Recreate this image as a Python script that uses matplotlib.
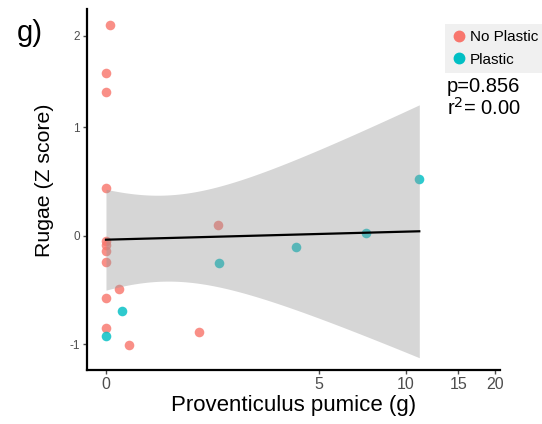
import numpy as np
import matplotlib.pyplot as plt
from matplotlib.lines import Line2D

plt.rcParams['font.family'] = ['Liberation Sans', 'DejaVu Sans']

#data (x in grams, y in Z score)
no_plastic_x = [0.09, 0, 0, 0, 0, 0, 0, 0, 2.63, 0.31, 0, 0, 2.18, 0.54]
no_plastic_y = [2.12, 1.59, 1.38, 0.44, -0.05, -0.08, -0.14, -0.24, 0.10, -0.49, -0.57, -0.85, -0.89, -1.01]
plastic_x = [0.37, 0, 2.64, 4.46, 7.69, 11.27]
plastic_y = [-0.69, -0.93, -0.25, -0.10, 0.03, 0.52]

x_ticks = [0, 5, 10, 15, 20]
y_ticks = [-1, 0, 1, 2]
p_text = "p=0.856"
r2_text = "r$^2$= 0.00"

#the original axes are not linear, so map tick values to their positions
XV = [-5, 0, 5, 10, 15, 20, 30]
XP = [-213.3, 0, 213.3, 300, 352.3, 389, 462.4]
YV = [-3, -1, 0, 1, 2, 4]
YP = [-324, -108, 0, 108.7, 200.3, 383.5]

def fx(v): return np.interp(v, XV, XP)
def fx_inv(v): return np.interp(v, XP, XV)
def fy(v): return np.interp(v, YV, YP)
def fy_inv(v): return np.interp(v, YP, YV)

pink = '#F8766D'
teal = '#00BFC4'

fig = plt.figure(figsize=(5.42, 4.24), dpi=100)
ax = fig.add_axes([87/542, 54/424, 413/542, 361/424])
ax.set_xscale('function', functions=(fx, fx_inv))
ax.set_yscale('function', functions=(fy, fy_inv))

ax.scatter(no_plastic_x, no_plastic_y, s=48, color=pink, alpha=0.82, linewidths=0, zorder=2)
ax.scatter(plastic_x, plastic_y, s=48, color=teal, alpha=0.82, linewidths=0, zorder=2)

#linear fit with 95% CI, done on the transformed scale like ggplot does
all_x = np.array(no_plastic_x + plastic_x)
all_y = np.array(no_plastic_y + plastic_y)
tx = fx(all_x)
ty = fy(all_y)
n = len(tx)
slope, intercept = np.polyfit(tx, ty, 1)
resid = ty - (slope*tx + intercept)
s = np.sqrt(np.sum(resid**2)/(n-2))
Sxx = np.sum((tx - tx.mean())**2)
t_crit = 2.101 #t value for df=18
grid = np.linspace(tx.min(), tx.max(), 200)
fit = slope*grid + intercept
se = s*np.sqrt(1/n + (grid - tx.mean())**2/Sxx)
ax.fill_between(fx_inv(grid), fy_inv(fit - t_crit*se), fy_inv(fit + t_crit*se),
                color='#999999', alpha=0.4, linewidth=0, zorder=3)
ax.plot(fx_inv(grid), fy_inv(fit), color='black', linewidth=1.6, zorder=4)

ax.set_xlim(-0.445, 20.68)
ax.set_ylim(-1.24, 2.29)
ax.set_xticks(x_ticks)
ax.set_yticks(y_ticks)
ax.set_xticklabels([str(v) for v in x_ticks], fontsize=11.5, color='#4D4D4D')
ax.set_yticklabels([str(v) for v in y_ticks], fontsize=8.5, color='#4D4D4D')
ax.tick_params(length=3, width=1, color='#4D4D4D', pad=2)
for side in ['top', 'right']:
    ax.spines[side].set_visible(False)
for side in ['left', 'bottom']:
    ax.spines[side].set_linewidth(1.6)

ax.set_xlabel("Proventiculus pumice (g)", fontsize=16, labelpad=2)
ax.set_ylabel("Rugae (Z score)", fontsize=15.3)
ax.yaxis.set_label_coords(-33/413, (370-180)/361)

fig.text(17/542, 1 - 33/424, "g)", fontsize=21, va='center', ha='left')

handles = [Line2D([], [], marker='o', linestyle='', color=pink, markersize=7.5, label='No Plastic'),
           Line2D([], [], marker='o', linestyle='', color=teal, markersize=7.5, label='Plastic')]
leg = fig.legend(handles=handles, loc='upper left', bbox_to_anchor=(445/542, 1 - 24/424),
                 fontsize=11, frameon=True, fancybox=False, facecolor='#F0F0F0', edgecolor='none',
                 framealpha=1, handletextpad=0.25, borderpad=0.4, labelspacing=0.55,
                 handlelength=1.0, borderaxespad=0)

fig.text(447/542, 1 - 86/424, p_text, fontsize=14.5, va='center', ha='left')
fig.text(447/542, 1 - 108/424, r2_text, fontsize=14.5, va='center', ha='left')

plt.savefig('out.png', dpi=100)
